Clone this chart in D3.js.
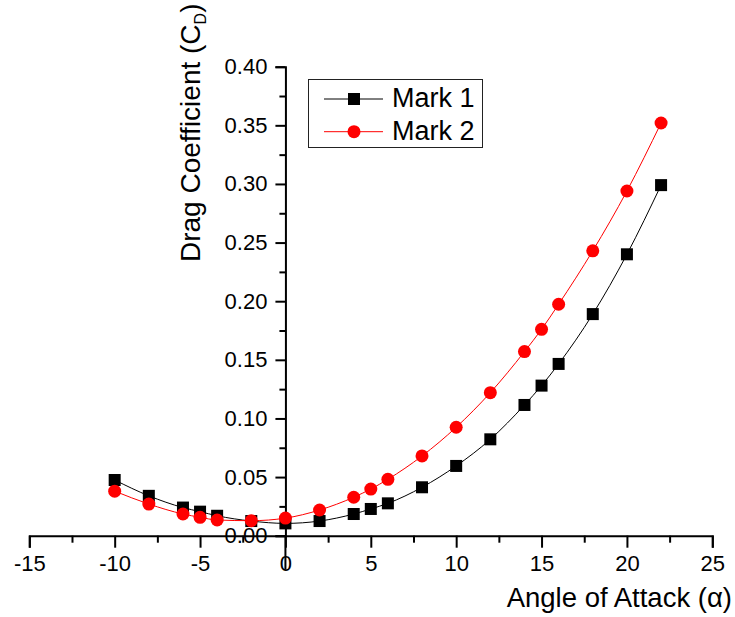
<!DOCTYPE html>
<html>
<head>
<meta charset="utf-8">
<script src="https://cdn.jsdelivr.net/npm/d3@7"></script>
<style>
  body { margin: 0; background: #fff; }
  svg { display: block; font-family: "Liberation Sans", Arial, sans-serif; }
</style>
</head>
<body>
<div id="chart"></div>
<script>
// data
const angles = [-10, -8, -6, -5, -4, -2, 0, 2, 4, 5, 6, 8, 10, 12, 14, 15, 16, 18, 20, 22];
const mark1 = [0.0475, 0.034, 0.024, 0.0205, 0.017, 0.0125, 0.0105, 0.0125, 0.0185, 0.0228, 0.0276, 0.0413, 0.0595, 0.0822, 0.1115, 0.128, 0.1465, 0.189, 0.240, 0.299];
const mark2 = [0.038, 0.027, 0.0185, 0.0157, 0.0134, 0.0128, 0.015, 0.0219, 0.0328, 0.0398, 0.0481, 0.068, 0.0925, 0.122, 0.157, 0.176, 0.1974, 0.243, 0.294, 0.352];
const seriesNames = ["Mark 1", "Mark 2"];
const xTicks = [-15, -10, -5, 0, 5, 10, 15, 20, 25];
const xMinor = [-12.5, -7.5, -2.5, 2.5, 7.5, 12.5, 17.5, 22.5];
const yTicks = [0, 0.05, 0.10, 0.15, 0.20, 0.25, 0.30, 0.35, 0.40];
const yMinor = [0.025, 0.075, 0.125, 0.175, 0.225, 0.275, 0.325, 0.375];

const width = 735, height = 617;

const svg = d3.select("#chart").append("svg")
    .attr("width", width)
    .attr("height", height);

const x = d3.scaleLinear().domain([-15, 25]).range([29.3, 712.3]);
const y = d3.scaleLinear().domain([0, 0.4]).range([535.7, 66.7]);

// --- axes ---
const xAxisG = svg.append("g").attr("transform", `translate(0,${y(0)})`);
xAxisG.call(d3.axisBottom(x).tickValues(xTicks).tickSize(12).tickPadding(8).tickFormat(d => String(d)));
const xMinorG = svg.append("g").attr("transform", `translate(0,${y(0)})`);
xMinorG.call(d3.axisBottom(x).tickValues(xMinor).tickSize(7).tickFormat(""));
xMinorG.select(".domain").remove();

const yAxisG = svg.append("g").attr("transform", `translate(${x(0)},0)`);
yAxisG.call(d3.axisLeft(y).tickValues(yTicks).tickSize(10).tickPadding(8).tickFormat(d3.format(".2f")));
const yMinorG = svg.append("g").attr("transform", `translate(${x(0)},0)`);
yMinorG.call(d3.axisLeft(y).tickValues(yMinor).tickSize(6).tickFormat(""));
yMinorG.select(".domain").remove();

svg.selectAll(".domain").attr("stroke", "#000").attr("stroke-width", 2);
svg.selectAll(".tick line").attr("stroke", "#000").attr("stroke-width", 2);
svg.selectAll(".tick text")
    .attr("fill", "#000")
    .style("font-size", "22px")
    .style("font-family", "'Liberation Sans', Arial, sans-serif");

// the vertical axis line runs through the "0" label
svg.append("line")
    .attr("x1", x(0)).attr("x2", x(0))
    .attr("y1", y(0)).attr("y2", y(0) + 34)
    .attr("stroke", "#000").attr("stroke-width", 2);

// --- axis titles ---
svg.append("text")
    .attr("x", 732).attr("y", 607)
    .attr("text-anchor", "end")
    .style("font-size", "27.5px")
    .text("Angle of Attack (α)");

const yTitle = svg.append("text")
    .attr("transform", "translate(200,262) rotate(-90)")
    .attr("text-anchor", "start")
    .style("font-size", "28px");
yTitle.append("tspan").text("Drag Coefficient (C");
yTitle.append("tspan").attr("dy", 6).style("font-size", "16px").text("D");
yTitle.append("tspan").attr("dy", -6).text(")");

// --- series ---
const series = [
    { name: seriesNames[0], values: mark1, color: "#000000", shape: "square" },
    { name: seriesNames[1], values: mark2, color: "#ff0000", shape: "circle" }
];

const line = d3.line()
    .x(d => x(d[0]))
    .y(d => y(d[1]))
    .curve(d3.curveMonotoneX);

function drawMarker(sel, shape, color) {
    if (shape === "square") {
        sel.append("rect")
            .attr("x", -6).attr("y", -6)
            .attr("width", 12).attr("height", 12)
            .attr("fill", color);
    } else {
        sel.append("circle")
            .attr("r", 6.5)
            .attr("fill", color);
    }
}

series.forEach(s => {
    const pts = angles.map((a, i) => [a, s.values[i]]);
    svg.append("path")
        .datum(pts)
        .attr("fill", "none")
        .attr("stroke", s.color)
        .attr("stroke-width", 1)
        .attr("d", line);
    svg.append("g").selectAll("g")
        .data(pts)
        .join("g")
        .attr("transform", d => `translate(${x(d[0])},${y(d[1])})`)
        .each(function() { drawMarker(d3.select(this), s.shape, s.color); });
});

// --- legend ---
const legend = svg.append("g");
legend.append("rect")
    .attr("x", 308.5).attr("y", 79.5)
    .attr("width", 174).attr("height", 68)
    .attr("fill", "#fff")
    .attr("stroke", "#222")
    .attr("stroke-width", 1);

series.forEach((s, i) => {
    const ly = 99 + i * 32.7;
    legend.append("line")
        .attr("x1", 324).attr("x2", 383)
        .attr("y1", ly).attr("y2", ly)
        .attr("stroke", s.color).attr("stroke-width", 1);
    drawMarker(legend.append("g").attr("transform", `translate(354,${ly})`), s.shape, s.color);
    legend.append("text")
        .attr("x", 392).attr("y", ly + 8)
        .style("font-size", "27px")
        .text(s.name);
});
</script>
</body>
</html>
